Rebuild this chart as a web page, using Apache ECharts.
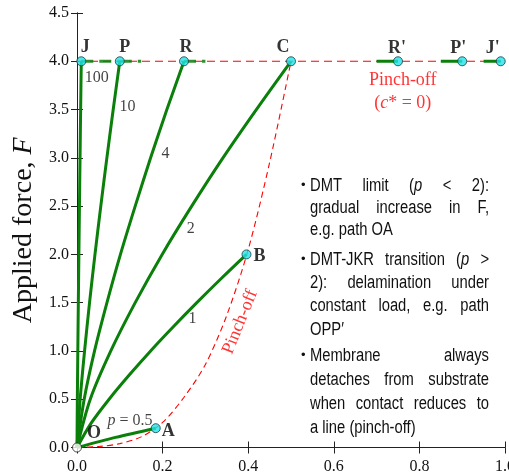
<!DOCTYPE html>
<html>
<head>
<meta charset="utf-8">
<script src="https://cdn.jsdelivr.net/npm/echarts@6/dist/echarts.min.js"></script>
<style>
html,body{margin:0;padding:0;background:#fff;}
#chart{width:509px;height:476px;}
</style>
</head>
<body>
<div id="chart"></div>
<script>
// ---------- data ----------
const xTickLabels = ['0.0','0.2','0.4','0.6','0.8','1.0'];
const yTickLabels = ['0.0','0.5','1.0','1.5','2.0','2.5','3.0','3.5','4.0','4.5'];

// green loading paths, one per p value (x = contact measure, F = applied force)
const pathF  = [0, 0.5, 1.0, 1.5, 2.0, 2.5, 3.0, 3.5, 4.0];
const p100X  = [0, 0.0008, 0.0019, 0.0031, 0.0044, 0.0057, 0.0071, 0.0085, 0.010];
const p10X   = [0, 0.0074, 0.0177, 0.0293, 0.042, 0.0556, 0.0698, 0.0846, 0.100];
const p4X    = [0, 0.0168, 0.041, 0.070, 0.1015, 0.136, 0.172, 0.210, 0.250];
const p2X    = [0, 0.031, 0.079, 0.136, 0.199, 0.268, 0.341, 0.419, 0.500];
const p1F    = [0, 0.25, 0.5, 0.75, 1.0, 1.25, 1.5, 1.75, 2.0];
const p1X    = [0, 0.0327, 0.075, 0.122, 0.172, 0.225, 0.280, 0.337, 0.396];
const p05X   = [0, 0.09, 0.184];
const p05F   = [0, 0.105, 0.2];

// red pinch-off boundary
const pinchX = [0, 0.05, 0.10, 0.15, 0.20, 0.25, 0.30, 0.35, 0.40, 0.45, 0.50];
const pinchF = [0, 0.01, 0.04, 0.11, 0.26, 0.52, 0.86, 1.37, 2.05, 2.95, 4.00];
// red constant-load line
const loadX = [0, 1.0];
const loadF = [4.0, 4.0];

// green pieces along F = 4
const dashSegStart = [0.01, 0.10, 0.25];
const dashSegEnd   = [0.10, 0.15, 0.30];
const solidSegStart = [0.70, 0.85, 0.95];
const solidSegEnd   = [0.75, 0.90, 0.99];

// labelled points
const pointNames = ['J', 'P', 'R', 'C', "R'", "P'", "J'", 'A', 'B'];
const pointX     = [0.01, 0.10, 0.25, 0.50, 0.75, 0.90, 0.99, 0.184, 0.396];
const pointF     = [4.0, 4.0, 4.0, 4.0, 4.0, 4.0, 4.0, 0.2, 2.0];
const originX = [0]; const originF = [0];

// curve labels
const curveLabelText = ['100', '10', '4', '2', '1', '{i|p} = 0.5'];
const curveLabelX = [0.046, 0.118, 0.207, 0.266, 0.27, 0.124];
const curveLabelF = [3.83, 3.53, 3.04, 2.27, 1.33, 0.28];

// notes
const noteLines = [
  {t: 'DMT limit ({i|p} < 2):', b: true, j: true, y: 186},
  {t: 'gradual increase in F,', j: true, y: 208},
  {t: 'e.g. path OA', j: false, y: 230},
  {t: 'DMT-JKR transition ({i|p} >', b: true, j: true, y: 260},
  {t: '2): delamination under', j: true, y: 283},
  {t: 'constant load, e.g. path', j: true, y: 306},
  {t: 'OPP\u2032', j: false, y: 330},
  {t: 'Membrane always', b: true, j: true, y: 356},
  {t: 'detaches from substrate', j: true, y: 380},
  {t: 'when contact reduces to', j: true, y: 404},
  {t: 'a line (pinch-off)', j: false, y: 428}
];

// ---------- styling ----------
const SERIF = '"Liberation Serif","Times New Roman",serif';
const SANS = '"Liberation Sans",Arial,sans-serif';
const NARROW_SCALE = 0.82;
const GREEN = '#0a7f0a';
const RED = '#ff0000';
const CYAN = '#22e3ea';

function zip(xs, ys) { return xs.map((x, i) => [x, ys[i]]); }

const greenCurve = (name, xs, ys) => ({
  type: 'line', name, data: zip(xs, ys), showSymbol: false, smooth: 0.3,
  lineStyle: {color: GREEN, width: 3}, z: 4, silent: true, animation: false
});

const series = [
  {type: 'line', name: 'pinch', data: zip(pinchX, pinchF), showSymbol: false, smooth: 0.3,
   lineStyle: {color: RED, width: 1.1, type: [6, 4]}, z: 2, animation: false},
  {type: 'line', name: 'load', data: zip(loadX, loadF), showSymbol: false,
   lineStyle: {color: RED, width: 1.1, type: [8, 5]}, z: 2, animation: false},
  greenCurve('p100', p100X, pathF),
  greenCurve('p10', p10X, pathF),
  greenCurve('p4', p4X, pathF),
  greenCurve('p2', p2X, pathF),
  greenCurve('p1', p1X, p1F),
  greenCurve('p05', p05X, p05F)
];
dashSegStart.forEach((s, i) => series.push({
  type: 'line', data: [[s, 4.0], [dashSegEnd[i], 4.0]], showSymbol: false,
  lineStyle: {color: GREEN, width: 3, type: [12, 6], opacity: 0.85}, z: 3, animation: false
}));
solidSegStart.forEach((s, i) => series.push({
  type: 'line', data: [[s, 4.0], [solidSegEnd[i], 4.0]], showSymbol: false,
  lineStyle: {color: GREEN, width: 3}, z: 3, animation: false
}));

const labelPlace = {
  'J': {position: 'top', distance: 0, offset: [4, 0]},
  'P': {position: 'top', distance: 0, offset: [5, 0]},
  'R': {position: 'top', distance: 0, offset: [2, 0]},
  'C': {position: 'top', distance: 0, offset: [-8, 0]},
  "R'": {position: 'top', distance: 0, offset: [-1, 1]},
  "P'": {position: 'top', distance: 0, offset: [-4, 1]},
  "J'": {position: 'top', distance: 0, offset: [-8, 1]},
  'A': {position: 'right', distance: 1, offset: [0, 3]},
  'B': {position: 'right', distance: 2, offset: [0, 2]}
};
series.push({
  type: 'scatter', name: 'points', z: 6, animation: false,
  symbolSize: 9,
  itemStyle: {color: CYAN, borderColor: '#1b3c44', borderWidth: 1},
  data: pointNames.map((n, i) => ({
    value: [pointX[i], pointF[i]], name: n,
    label: Object.assign({show: true, formatter: n}, labelPlace[n])
  })),
  label: {fontFamily: SERIF, fontWeight: 'bold', fontSize: 18, color: '#000'}
});
series.push({
  type: 'scatter', name: 'origin', z: 6, animation: false,
  symbolSize: 9,
  itemStyle: {color: '#fff', borderColor: '#222', borderWidth: 1},
  data: zip(originX, originF),
  label: {show: true, formatter: 'O', position: 'right', distance: 5, offset: [0, -14],
          fontFamily: SERIF, fontWeight: 'bold', fontSize: 18, color: '#000'}
});
series.push({
  type: 'scatter', name: 'curveLabels', z: 7, animation: false, silent: true,
  symbolSize: 1, itemStyle: {color: 'transparent'},
  data: curveLabelText.map((t, i) => ({value: [curveLabelX[i], curveLabelF[i]],
    label: {show: true, formatter: t}})),
  label: {position: 'inside', fontFamily: SERIF, fontSize: 16, color: '#111',
          rich: {i: {fontFamily: SERIF, fontSize: 16, fontStyle: 'italic', color: '#111'}}}
});
series.push({
  type: 'scatter', name: 'redLabels', z: 7, animation: false, silent: true,
  symbolSize: 1, itemStyle: {color: 'transparent'},
  data: [
    {value: [0.381, 1.30], label: {show: true, formatter: 'Pinch-off', rotate: 68}},
    {value: [0.761, 3.68], label: {show: true, formatter: 'Pinch-off\n({i|c}* = 0)', lineHeight: 23}}
  ],
  label: {position: 'inside', fontFamily: SERIF, fontSize: 18, color: RED, align: 'center',
          rich: {i: {fontFamily: SERIF, fontSize: 18, fontStyle: 'italic', color: RED}}}
});

// ---------- justified note text (Arial-Narrow look: sans scaled horizontally) ----------
const NOTE_SIZE = 18;
const noteX0 = 310, noteX1 = 489;
const canvas = document.createElement('canvas');
const ctx = canvas.getContext('2d');
ctx.font = NOTE_SIZE + 'px ' + SANS;
function plain(w) { return w.replace(/\{i\|([^}]*)\}/g, '$1'); }
const graphics = [];
noteLines.forEach(line => {
  const words = line.t.split(' ');
  const widths = words.map(w => ctx.measureText(plain(w)).width * NARROW_SCALE);
  const total = widths.reduce((a, b) => a + b, 0);
  let gap = ctx.measureText(' ').width * NARROW_SCALE;
  if (line.j && words.length > 1) gap = Math.max((noteX1 - noteX0 - total) / (words.length - 1), 2);
  let x = noteX0;
  words.forEach((w, k) => {
    graphics.push({
      type: 'text', x: x, y: line.y, z: 10, silent: true, scaleX: NARROW_SCALE,
      style: {text: w, fontFamily: SANS, fontSize: NOTE_SIZE, fill: '#111', verticalAlign: 'middle',
              rich: {i: {fontFamily: SANS, fontSize: NOTE_SIZE, fontStyle: 'italic', fill: '#111'}}}
    });
    x += widths[k] + gap;
  });
  if (line.b) {
    graphics.push({type: 'text', x: 301, y: line.y - 1, z: 10, silent: true,
      style: {text: '\u2022', fontFamily: SANS, fontSize: 13, fill: '#111', verticalAlign: 'middle'}});
  }
});

// ---------- axes ----------
const tickStyle = {inside: true, length: 6, lineStyle: {color: '#222', width: 1}};
const lineStyleAx = {lineStyle: {color: '#222', width: 1}};
const option = {
  animation: false,
  backgroundColor: '#fff',
  grid: {left: 77, right: 4, top: 13, bottom: 28.5, containLabel: false, outerBoundsMode: 'none'},
  xAxis: [
    {type: 'value', min: 0, max: 1, interval: 0.2, position: 'bottom',
     axisLine: lineStyleAx, axisTick: tickStyle, splitLine: {show: false},
     axisLabel: {margin: 11, fontFamily: SERIF, fontSize: 16, color: '#111',
                 formatter: v => xTickLabels[Math.round(v / 0.2)]}},
    {type: 'value', min: 0, max: 1, interval: 0.2, position: 'top',
     axisLine: lineStyleAx, axisTick: tickStyle, splitLine: {show: false}, axisLabel: {show: false}}
  ],
  yAxis: [
    {type: 'value', min: 0, max: 4.5, interval: 0.5, position: 'left',
     axisLine: lineStyleAx, axisTick: tickStyle, splitLine: {show: false},
     axisLabel: {margin: 8, fontFamily: SERIF, fontSize: 16, color: '#111',
                 formatter: v => yTickLabels[Math.round(v / 0.5)]},
     name: 'Applied force, {i|F}', nameLocation: 'middle', nameGap: 36,
     nameTextStyle: {fontFamily: SERIF, fontSize: 28, color: '#111',
                     rich: {i: {fontFamily: SERIF, fontSize: 28, fontStyle: 'italic', color: '#111'}}}},
    {type: 'value', min: 0, max: 4.5, interval: 0.5, position: 'right',
     axisLine: lineStyleAx, axisTick: tickStyle, splitLine: {show: false}, axisLabel: {show: false}}
  ],
  series: series,
  graphic: graphics
};
const chart = echarts.init(document.getElementById('chart'), null, {renderer: 'canvas'});
chart.setOption(option);
</script>
</body>
</html>
